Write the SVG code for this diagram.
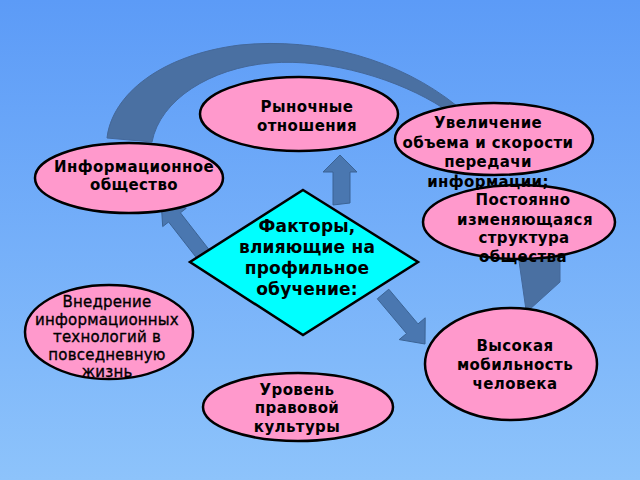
<svg xmlns="http://www.w3.org/2000/svg" width="640" height="480" viewBox="0 0 640 480">
<defs>
<linearGradient id="bg" x1="0" y1="0" x2="0" y2="1">
<stop offset="0" stop-color="#5c9bf7"/>
<stop offset="1" stop-color="#8dc3fb"/>
</linearGradient>
</defs>
<style>
.node ellipse{fill:#ff99cc;stroke:#000;stroke-width:2.5}
.dia{fill:#00ffff;stroke:#000;stroke-width:2.5}
text{font-family:"DejaVu Sans","Noto Sans",sans-serif;font-weight:bold;font-size:15px;fill:#000;text-anchor:middle;letter-spacing:0.4px}
text.reg{font-weight:normal;stroke:#000;stroke-width:0.35;letter-spacing:0.2px}
text.big{font-size:17px;letter-spacing:0.2px}
.arr{fill:#4a77b0;stroke:#3b6394;stroke-width:1}
.arc{fill:#4a70a2;stroke:#44689a;stroke-width:1}
</style>
<rect width="640" height="480" fill="url(#bg)"/>
<g id="connectors">
<path class="arc" d="M107,138 C112,95 160,55 240,45 C320,37 400,60 457,106 L443,108 C400,80 330,58 270,63 C210,68 160,100 152,142 Z"/>
<polygon class="arc" points="516,240 560,240 560,282 529,310 526,310"/>
<polygon class="arr" points="333,205 333,172 323,172 340,155 357,172 350,172 350,203"/>
<polygon class="arr" points="208.9,249.4 180.4,212.8 186.3,208.2 161,200 162.7,226.6 168.6,222 197.1,258.6"/>
<polygon class="arr" points="388.8,289.2 418,323.9 425.2,317.8 425,344 399.2,339.6 406.5,333.5 377.3,298.8"/>
</g>
<g id="rynok" class="node">
<ellipse cx="299" cy="114" rx="99" ry="37"/>
<text x="307" y="112">Рыночные</text>
<text x="307" y="131">отношения</text>
</g>
<g id="postoyanno" class="node">
<ellipse cx="519" cy="222" rx="96" ry="37"/>
<text x="523" y="205">Постоянно</text>
<text x="525" y="225">изменяющаяся</text>
<text x="524" y="243">структура</text>
<text x="523" y="262">общества</text>
</g>
<g id="uvelichenie" class="node">
<ellipse cx="494" cy="139" rx="99" ry="36"/>
<text x="488" y="128">Увеличение</text>
<text x="488" y="148">объема и скорости</text>
<text x="488" y="167">передачи</text>
<text x="488" y="187">информации;</text>
</g>
<g id="info" class="node">
<ellipse cx="129" cy="178" rx="94" ry="35"/>
<text x="134" y="172">Информационное</text>
<text x="134" y="190">общество</text>
</g>
<g id="vnedrenie" class="node">
<ellipse cx="109" cy="332" rx="84" ry="47"/>
<text class="reg" x="107" y="307">Внедрение</text>
<text class="reg" x="107" y="325">информационных</text>
<text class="reg" x="107" y="342">технологий в</text>
<text class="reg" x="107" y="360">повседневную</text>
<text class="reg" x="107" y="377">жизнь</text>
</g>
<g id="mobilnost" class="node">
<ellipse cx="511" cy="364" rx="86" ry="56"/>
<text x="515" y="351">Высокая</text>
<text x="515" y="370">мобильность</text>
<text x="515" y="389">человека</text>
</g>
<g id="uroven" class="node">
<ellipse cx="298" cy="407" rx="95" ry="34"/>
<text x="297" y="395">Уровень</text>
<text x="297" y="413">правовой</text>
<text x="297" y="432">культуры</text>
</g>
<g id="faktory">
<polygon class="dia" points="303,190 418,262 303,335 190,262"/>
<text class="big" x="307" y="232">Факторы,</text>
<text class="big" x="307" y="253">влияющие на</text>
<text class="big" x="307" y="274">профильное</text>
<text class="big" x="307" y="295">обучение:</text>
</g>
</svg>
